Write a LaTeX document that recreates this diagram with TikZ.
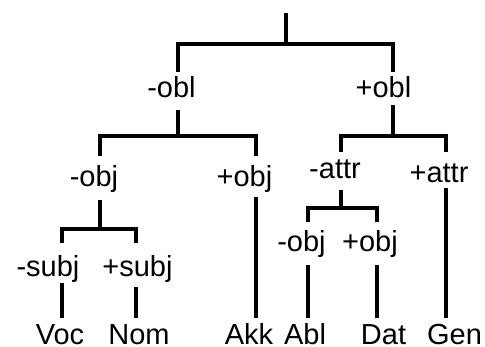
\documentclass[tikz,border=0pt]{standalone}
\usepackage{fontspec}
\setmainfont{Liberation Sans}
\begin{document}
\begin{tikzpicture}[x=1pt,y=-1pt,
  branch/.style={line width=3.6pt,line join=miter},
  feat/.style={anchor=base,inner sep=0pt,font=\fontsize{29}{34}\selectfont}]
\useasboundingbox (0,0) rectangle (485,347);

% feature labels
\node[feat] (mobl)  at (171.5,98) {-obl};
\node[feat] (pobl)  at (383.5,98) {+obl};
\node[feat] (mobjL) at (94,187)   {-obj};
\node[feat] (pobjA) at (244.5,187) {+obj};
\node[feat] (mattr) at (335,179)  {-attr};
\node[feat] (pattr) at (439,183)  {+attr};
\node[feat] (msubj) at (48,277)   {-subj};
\node[feat] (psubj) at (137.5,277) {+subj};
\node[feat] (mobjR) at (301.5,252) {-obj};
\node[feat] (pobjR) at (370,252)  {+obj};

% cases
\node[feat] (voc) at (60,345)    {Voc};
\node[feat] (nom) at (139,345)   {Nom};
\node[feat] (akk) at (249,345)   {Akk};
\node[feat] (abl) at (305,345)   {Abl};
\node[feat] (dat) at (383.5,345) {Dat};
\node[feat] (gen) at (454.5,345) {Gen};

% line ends and branch points
\coordinate (top) at (286,13);
\coordinate (j0) at (286,44);
\coordinate (mobl-t) at (178,72);
\coordinate (pobl-t) at (393,72);
\coordinate (mobl-b) at (178,110);
\coordinate (j1) at (178,136);
\coordinate (mobjL-t) at (100,156);
\coordinate (pobjA-t) at (256,156);
\coordinate (pobl-b) at (393,105);
\coordinate (j2) at (393,136);
\coordinate (mattr-t) at (341,152);
\coordinate (pattr-t) at (446,152);
\coordinate (mobjL-b) at (100,200);
\coordinate (j3) at (100,229);
\coordinate (msubj-t) at (62,243);
\coordinate (psubj-t) at (136,243);
\coordinate (msubj-b) at (62,283);
\coordinate (voc-t) at (62,318);
\coordinate (psubj-b) at (136,287);
\coordinate (nom-t) at (136,318);
\coordinate (pobjA-b) at (256,197);
\coordinate (akk-t) at (256,318);
\coordinate (mattr-b) at (341,190);
\coordinate (j4) at (341,208);
\coordinate (mobjR-t) at (308,222);
\coordinate (pobjR-t) at (377,222);
\coordinate (mobjR-b) at (308,265);
\coordinate (abl-t) at (308,318);
\coordinate (pobjR-b) at (377,265);
\coordinate (dat-t) at (377,318);
\coordinate (pattr-b) at (446,188);
\coordinate (gen-t) at (446,318);

% tree
\draw[branch] (top) -- (j0);
\draw[branch] (mobl-t) |- (j0) -| (pobl-t);
\draw[branch] (mobl-b) -- (j1);
\draw[branch] (mobjL-t) |- (j1) -| (pobjA-t);
\draw[branch] (pobl-b) -- (j2);
\draw[branch] (mattr-t) |- (j2) -| (pattr-t);
\draw[branch] (mobjL-b) -- (j3);
\draw[branch] (msubj-t) |- (j3) -| (psubj-t);
\draw[branch] (msubj-b) -- (voc-t);
\draw[branch] (psubj-b) -- (nom-t);
\draw[branch] (pobjA-b) -- (akk-t);
\draw[branch] (mattr-b) -- (j4);
\draw[branch] (mobjR-t) |- (j4) -| (pobjR-t);
\draw[branch] (mobjR-b) -- (abl-t);
\draw[branch] (pobjR-b) -- (dat-t);
\draw[branch] (pattr-b) -- (gen-t);
\end{tikzpicture}
\end{document}
